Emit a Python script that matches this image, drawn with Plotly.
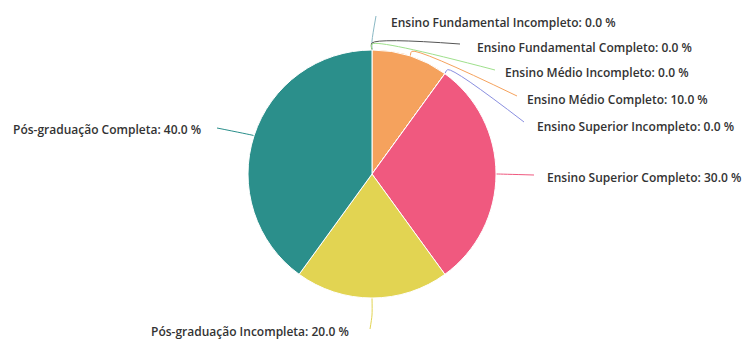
import math
import plotly.graph_objects as go

categories = [
    "Ensino Fundamental Incompleto",
    "Ensino Fundamental Completo",
    "Ensino Médio Incompleto",
    "Ensino Médio Completo",
    "Ensino Superior Incompleto",
    "Ensino Superior Completo",
    "Pós-graduação Incompleta",
    "Pós-graduação Completa",
]
values = [0.0, 0.0, 0.0, 10.0, 0.0, 30.0, 20.0, 40.0]
colors = ["#8ab8c4", "#555555", "#9fe08c", "#f5a25d", "#8a8fe0", "#f0597f", "#e2d452", "#2b8f8b"]

# layout (pixels)
W, H = 742, 340
CX, CY, R = 372, 174, 124
# label x, label y, anchor, line end x, line end y, elbow extension
label_layout = [
    (389, 22, "left", 376, 16, 9),
    (475, 47, "left", 460, 44, 7),
    (503, 72, "left", 495, 70, 6),
    (525, 99, "left", 517, 96, 5),
    (535, 126, "left", 524, 122, 5),
    (545, 177, "left", 534, 175, 1),
    (351, 331, "right", 370, 329, 17),
    (203, 129, "right", 217, 128, 1),
]

fig = go.Figure()
fig.add_trace(go.Pie(
    labels=categories, values=values, sort=False, direction="clockwise", rotation=0,
    marker=dict(colors=colors, line=dict(color="white", width=1)),
    textinfo="none", hoverinfo="label+percent", showlegend=False,
    domain=dict(x=[(CX - R) / W, (CX + R) / W], y=[1 - (CY + R) / H, 1 - (CY - R) / H]),
))

total = sum(values)
cum = 0.0
annotations = []
for i, (cat, v) in enumerate(zip(categories, values)):
    mid = (cum + v / 2) / total * 2 * math.pi
    cum += v
    lx, ly, anc, ex, ey, ext = label_layout[i]
    x0 = CX + R * math.sin(mid)
    y0 = CY - R * math.cos(mid)
    x1 = CX + (R + ext) * math.sin(mid)
    y1 = CY - (R + ext) * math.cos(mid)
    fig.add_trace(go.Scatter(
        x=[x0, x1, ex], y=[y0, y1, ey], mode="lines",
        line=dict(color=colors[i], width=1, shape="spline", smoothing=0.8),
        hoverinfo="skip", showlegend=False,
    ))
    pct = v / total * 100
    annotations.append(dict(
        x=lx, y=ly, xref="x", yref="y", text=f"{cat}: {pct:.1f} %",
        showarrow=False, xanchor=anc, yanchor="middle",
        font=dict(family="Open Sans", size=12, color="#333333", weight=600),
    ))

fig.update_layout(
    width=W, height=H, margin=dict(l=0, r=0, t=0, b=0),
    paper_bgcolor="white", plot_bgcolor="rgba(0,0,0,0)",
    xaxis=dict(range=[0, W], visible=False, fixedrange=True, domain=[0, 1]),
    yaxis=dict(range=[H, 0], visible=False, fixedrange=True, domain=[0, 1]),
    annotations=annotations,
)
fig.write_html("out.html")
